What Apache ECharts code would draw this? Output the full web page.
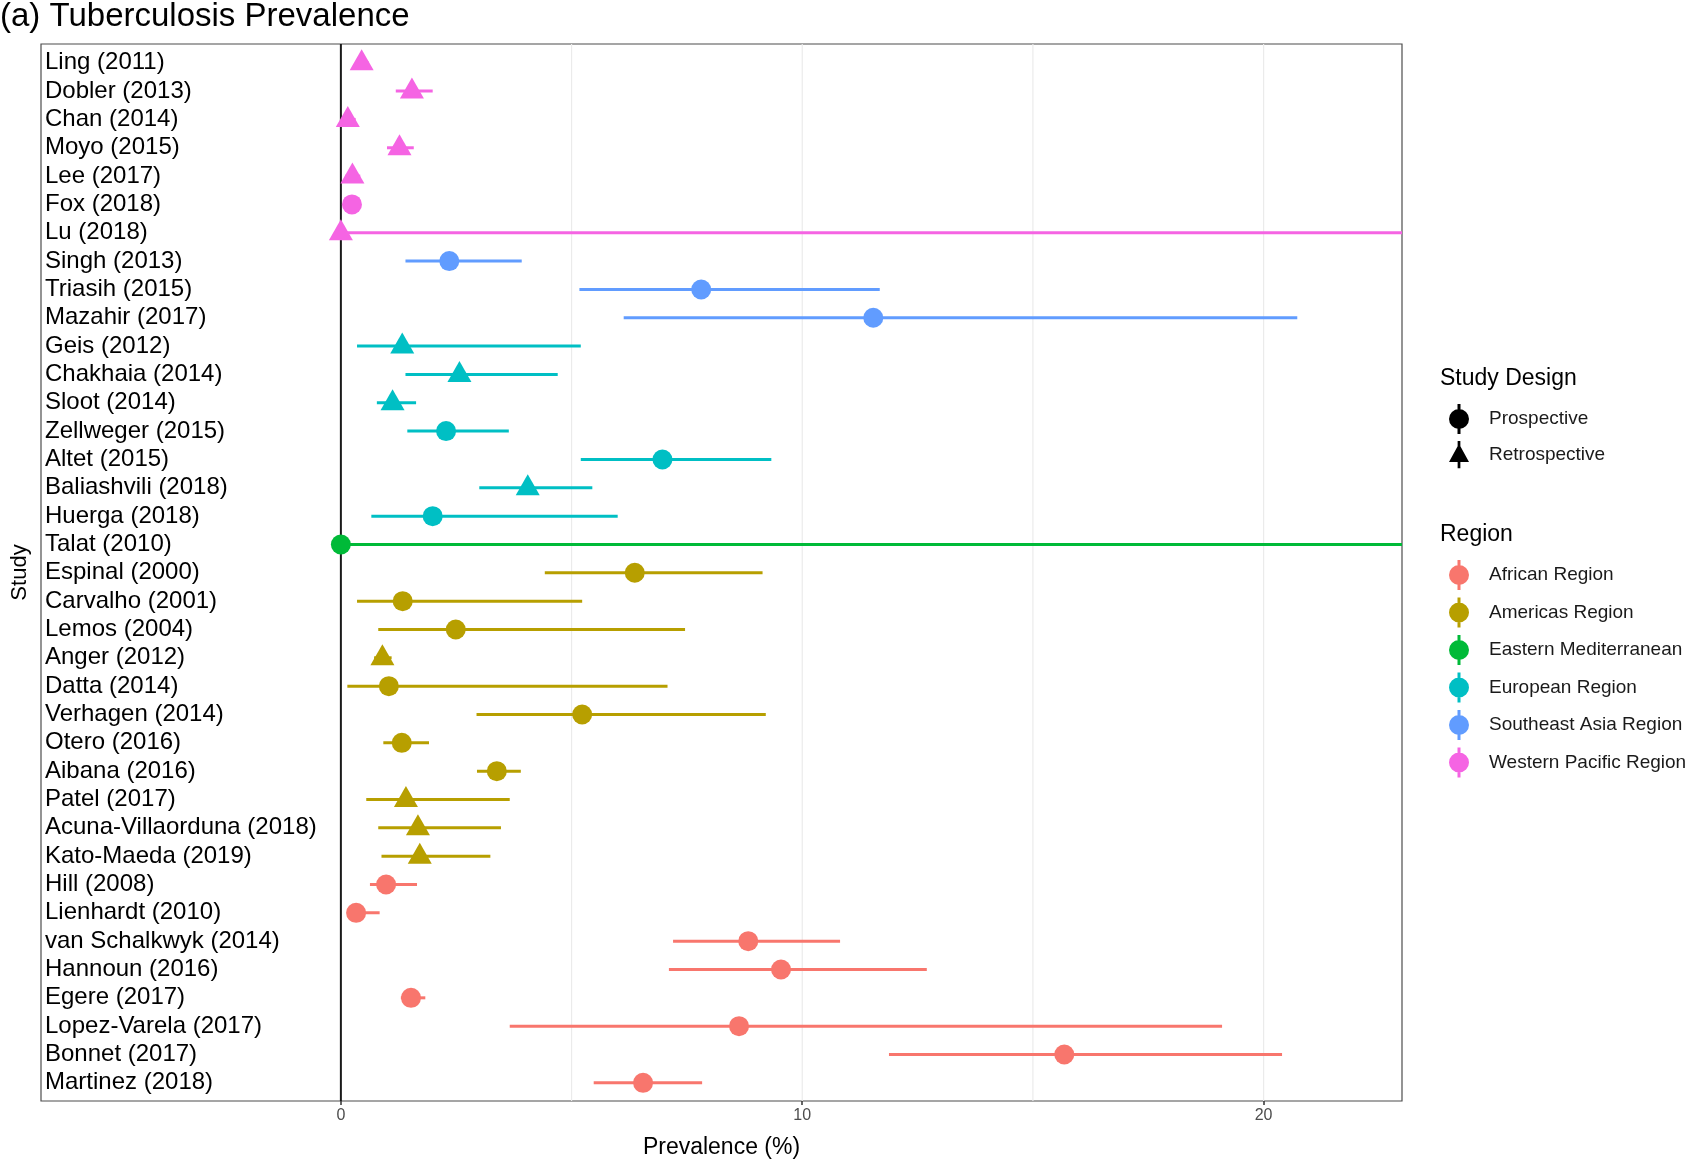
<!DOCTYPE html>
<html>
<head>
<meta charset="UTF-8">
<title>Tuberculosis Prevalence</title>
<script src="https://cdn.jsdelivr.net/npm/echarts@6/dist/echarts.min.js"></script>
<style>
body{
margin:0;
background:#fff;
}
#chart{
width:1696px;
height:1167px;
}
</style>
</head>
<body>
<div id="chart"></div>
<script>

const studies = [
 "Ling (2011)","Dobler (2013)","Chan (2014)","Moyo (2015)","Lee (2017)","Fox (2018)","Lu (2018)",
 "Singh (2013)","Triasih (2015)","Mazahir (2017)",
 "Geis (2012)","Chakhaia (2014)","Sloot (2014)","Zellweger (2015)","Altet (2015)","Baliashvili (2018)","Huerga (2018)",
 "Talat (2010)",
 "Espinal (2000)","Carvalho (2001)","Lemos (2004)","Anger (2012)","Datta (2014)","Verhagen (2014)","Otero (2016)",
 "Aibana (2016)","Patel (2017)","Acuna-Villaorduna (2018)","Kato-Maeda (2019)",
 "Hill (2008)","Lienhardt (2010)","van Schalkwyk (2014)","Hannoun (2016)","Egere (2017)","Lopez-Varela (2017)",
 "Bonnet (2017)","Martinez (2018)"
]

const regionOf = [
 "Western Pacific Region","Western Pacific Region","Western Pacific Region","Western Pacific Region","Western Pacific Region","Western Pacific Region","Western Pacific Region",
 "Southeast Asia Region","Southeast Asia Region","Southeast Asia Region",
 "European Region","European Region","European Region","European Region","European Region","European Region","European Region",
 "Eastern Mediterranean",
 "Americas Region","Americas Region","Americas Region","Americas Region","Americas Region","Americas Region","Americas Region",
 "Americas Region","Americas Region","Americas Region","Americas Region",
 "African Region","African Region","African Region","African Region","African Region","African Region",
 "African Region","African Region"
]

const design = [
 "R","R","R","R","R","P","R",
 "P","P","P",
 "R","R","R","P","P","R","P",
 "P",
 "P","P","P","R","P","P","P",
 "P","R","R","R",
 "P","P","P","P","P","P",
 "P","P"
]

const prevalence = [
 0.45,1.54,0.15,1.27,0.25,0.24,0,
 2.35,7.81,11.54,
 1.33,2.57,1.12,2.28,6.97,4.05,1.99,
 0,
 6.37,1.34,2.49,0.9,1.04,5.23,1.32,
 3.38,1.41,1.67,1.71,
 0.98,0.33,8.83,9.54,1.52,8.63,
 15.68,6.55
]

const lower = [
 0.32,1.19,0.04,1.0,0.1,0.12,0,
 1.4,5.17,6.13,
 0.35,1.4,0.78,1.44,5.2,3.0,0.66,
 0,
 4.42,0.35,0.81,0.72,0.14,2.94,0.92,
 2.95,0.55,0.81,0.88,
 0.63,0.15,7.2,7.11,1.3,3.66,
 11.88,5.48
]

const upper = [
 0.6,1.99,0.32,1.58,0.42,0.38,23,
 3.92,11.68,20.73,
 5.2,4.7,1.63,3.64,9.33,5.45,6.0,
 23,
 9.14,5.23,7.46,1.1,7.08,9.21,1.91,
 3.9,3.66,3.47,3.24,
 1.65,0.84,10.82,12.7,1.83,19.1,
 20.4,7.83
]

const regions = ["African Region","Americas Region","Eastern Mediterranean","European Region","Southeast Asia Region","Western Pacific Region"]
const regionColors = ["#F8766D","#B79F00","#00BA38","#00BFC4","#619CFF","#F564E3"]

const xTicks = [0,10,20]
const gridValues = [5,10,15,20]

const font = "Liberation Sans, Arial, sans-serif"

const circleKey = "path://M0,15 A10,10 0 1,1 20,15 A10,10 0 1,1 0,15 Z M8.5,0 L11.5,0 L11.5,30 L8.5,30 Z"
const triangleKey = "path://M10,3 L21,23 L-1,23 Z M8.5,0 L11.5,0 L11.5,30 L8.5,30 Z"

const series = []

// light vertical grid lines, drawn first
series.push({
 type:"custom",
 silent:true,
 xAxisIndex:1,
 yAxisIndex:1,
 z:0,
 data:gridValues,
 encode:{ x:0 },
 renderItem:(params,api)=>{
  const p = api.coord([api.value(0),0])
  return {
   type:"line",
   shape:{ x1:p[0],y1:44,x2:p[0],y2:1101 },
   style:{ stroke:"#ebebeb",lineWidth:1.2 }
  }
 }
})

// zero reference line
series.push({
 type:"custom",
 silent:true,
 xAxisIndex:1,
 yAxisIndex:1,
 z:1,
 data:[0],
 encode:{ x:0 },
 renderItem:(params,api)=>{
  const p = api.coord([api.value(0),0])
  return {
   type:"line",
   shape:{ x1:p[0],y1:44,x2:p[0],y2:1101 },
   style:{ stroke:"#1a1a1a",lineWidth:2 }
  }
 }
})

regions.forEach((r,k)=>{

 const color = regionColors[k]

 const ci = []
 const pts = []

 for(let i=0;i<studies.length;i++){
  if(regionOf[i]!==r) continue
  ci.push([lower[i],upper[i],i])
  if(design[i]==="R"){
   pts.push({ value:[prevalence[i],i], symbol:"triangle", symbolSize:[24,21], symbolOffset:[0,-3] })
  }else{
   pts.push({ value:[prevalence[i],i], symbol:"circle", symbolSize:20 })
  }
 }

 series.push({
  name:r,
  type:"custom",
  xAxisIndex:1,
  yAxisIndex:1,
  z:2,
  data:ci,
  encode:{ x:[0,1],y:2 },
  itemStyle:{ color:color,opacity:1 },
  renderItem:(params,api)=>{
   const a = api.coord([api.value(0),api.value(2)])
   const b = api.coord([api.value(1),api.value(2)])
   return {
    type:"line",
    shape:{ x1:a[0],y1:a[1],x2:b[0],y2:b[1] },
    style:{ stroke:color,lineWidth:3 }
   }
  }
 })

 series.push({
  name:r,
  type:"scatter",
  xAxisIndex:1,
  yAxisIndex:1,
  z:3,
  data:pts,
  itemStyle:{ color:color,opacity:1 }
 })

})

series.push({ name:"Prospective",type:"scatter",xAxisIndex:1,yAxisIndex:1,data:[],itemStyle:{ color:"#000",opacity:1 } })
series.push({ name:"Retrospective",type:"scatter",xAxisIndex:1,yAxisIndex:1,data:[],itemStyle:{ color:"#000",opacity:1 } })

const chart = echarts.init(document.getElementById("chart"),null,{ renderer:"canvas" })

chart.setOption({

 animation:false,

 textStyle:{ fontFamily:font },

 title:[
  {
   text:"(a) Tuberculosis Prevalence",
   left:0,
   top:0,
   padding:0,
   textStyle:{ fontFamily:font,fontSize:33,fontWeight:"normal",color:"#000" }
  },
  {
   text:"Study Design",
   left:1440,
   top:367,
   padding:0,
   textStyle:{ fontFamily:font,fontSize:23,fontWeight:"normal",color:"#000" }
  },
  {
   text:"Region",
   left:1440,
   top:523,
   padding:0,
   textStyle:{ fontFamily:font,fontSize:23,fontWeight:"normal",color:"#000" }
  }
 ],

 legend:[
  {
   orient:"vertical",
   left:1449,
   top:404,
   padding:0,
   itemWidth:20,
   itemHeight:30,
   itemGap:7,
   selectedMode:false,
   data:[
    { name:"Prospective",icon:circleKey },
    { name:"Retrospective",icon:triangleKey }
   ],
   textStyle:{ fontFamily:font,fontSize:19,color:"#1a1a1a",padding:[0,0,0,15] }
  },
  {
   orient:"vertical",
   left:1449,
   top:560,
   padding:0,
   itemWidth:20,
   itemHeight:30,
   itemGap:7.5,
   selectedMode:false,
   data:regions.map(r=>({ name:r,icon:circleKey })),
   textStyle:{ fontFamily:font,fontSize:19,color:"#1a1a1a",padding:[0,0,0,15] }
  }
 ],

 // grid 0 is the panel frame with the x axis, grid 1 holds the rows
 grid:[
  {
   left:41,
   right:294,
   top:44,
   bottom:66,
   show:true,
   borderColor:"#4d4d4d",
   borderWidth:1.2,
   backgroundColor:"#fff"
  },
  {
   left:41,
   right:294,
   top:48.6,
   bottom:70
  }
 ],

 xAxis:[
  {
   type:"value",
   gridIndex:0,
   min:-6.5,
   max:23,
   splitLine:{ show:false },
   axisLine:{ show:false },
   axisTick:{ show:true,customValues:xTicks,length:4,lineStyle:{ color:"#333",width:1.5 } },
   axisLabel:{ customValues:xTicks,color:"#4d4d4d",fontSize:16,margin:7,fontFamily:font },
   name:"Prevalence (%)",
   nameLocation:"middle",
   nameGap:35,
   nameTextStyle:{ fontFamily:font,fontSize:23,color:"#000" }
  },
  {
   type:"value",
   gridIndex:1,
   min:-6.5,
   max:23,
   show:false
  }
 ],

 yAxis:[
  {
   type:"value",
   gridIndex:0,
   min:0,
   max:1,
   axisLine:{ show:false },
   axisTick:{ show:false },
   axisLabel:{ show:false },
   splitLine:{ show:false },
   name:"Study",
   nameLocation:"middle",
   nameRotate:90,
   nameGap:10,
   nameTextStyle:{ fontFamily:font,fontSize:22,color:"#000" }
  },
  {
   type:"category",
   gridIndex:1,
   inverse:true,
   data:studies,
   axisLine:{ show:false },
   axisTick:{ show:false },
   splitLine:{ show:false },
   axisLabel:{
    inside:true,
    interval:0,
    margin:4,
    fontSize:24,
    padding:[4,0,0,0],
    color:"#000",
    fontFamily:font
   }
  }
 ],

 series:series

})

</script>
</body>
</html>
